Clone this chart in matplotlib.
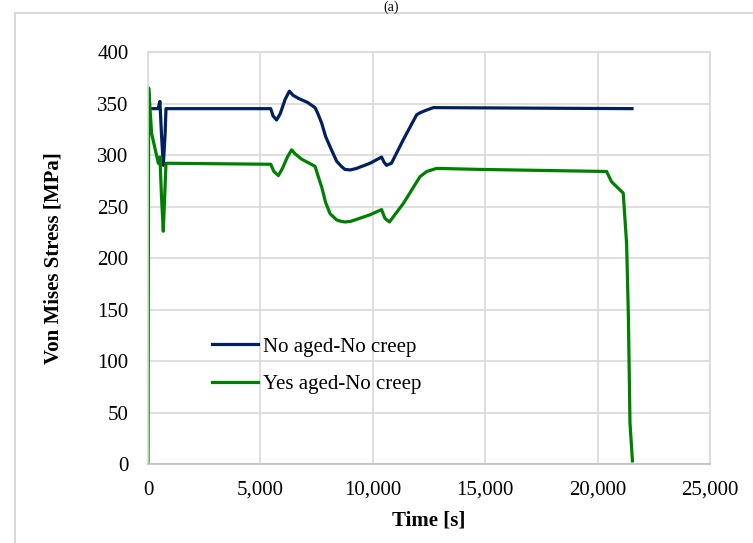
import matplotlib
matplotlib.use("Agg")
import matplotlib.pyplot as plt
from matplotlib.ticker import FuncFormatter, MultipleLocator
from matplotlib.patches import Rectangle

plt.rcParams['font.family'] = ['Liberation Serif', 'DejaVu Serif']

# No aged - No creep
t_blue = [0, 450, 530, 600, 680, 760, 800, 5460, 5560, 5720, 5880, 6100, 6290, 6450, 6690,
          7100, 7430, 7560, 7725, 7900, 8100, 8390, 8600, 8760, 9000, 9280, 9880, 10390,
          10500, 10610, 10830, 11360, 11950, 12100, 12320, 12690, 21530]
s_blue = [345, 345, 352, 320, 290, 320, 345, 345, 338, 334, 340, 354, 362, 358, 355,
          351, 346, 340, 331, 318, 308, 294, 289, 286, 285.5, 287, 292, 298,
          293, 290, 292, 315, 339, 341, 343, 346, 345]

# Yes aged - No creep
t_green = [0, 30, 160, 460, 530, 600, 680, 760, 800, 5460, 5600, 5800, 5980, 6200, 6390,
           6550, 6830, 7430, 7560, 7725, 7900, 8100, 8390, 8600, 8760, 9000, 9280, 9880,
           10390, 10540, 10740, 11360, 12100, 12400, 12840, 14770, 20400, 20620, 21140,
           21290, 21370, 21440, 21550]
s_green = [0, 365, 321, 292, 298, 260, 226, 270, 292, 291, 284, 280, 287, 298, 305,
           301, 296, 289, 280, 269, 254, 243, 237, 235.5, 235, 235.5, 237.5, 242,
           247, 238.5, 235, 253, 279, 284, 287, 286, 284, 274, 263,
           214, 143, 40, 3]

fig = plt.figure(figsize=(7.53, 5.43), dpi=100)
ax = fig.add_axes([148/753, 1-464/543, (710-148)/753, (464-52)/543])

# outer chart frame
fig.patches.append(Rectangle((15/753, -0.2), 1.2, 1.2 - 13/543, transform=fig.transFigure,
                             fill=False, edgecolor='#d9d9d9', linewidth=1.5))
fig.text(0.52, 1-1/543, '(a)', ha='center', va='top', fontsize=10)

ax.plot(t_blue, s_blue, color='#002060', lw=2.3, label='No aged-No creep')
ax.plot(t_green, s_green, color='#008000', lw=2.3, label='Yes aged-No creep')

ax.set_xlim(0, 25000)
ax.set_ylim(0, 400)
ax.xaxis.set_major_locator(MultipleLocator(5000))
ax.yaxis.set_major_locator(MultipleLocator(50))
ax.xaxis.set_major_formatter(FuncFormatter(lambda v, p: '{:,.0f}'.format(v)))
ax.grid(True, color='#d9d9d9', lw=1.2)
ax.set_axisbelow(True)
for sp in ax.spines.values():
    sp.set_color('#d9d9d9')
    sp.set_linewidth(1.2)
ax.spines['bottom'].set_color('#bfbfbf')
ax.tick_params(length=0, labelsize=15, pad=14)
ax.tick_params(axis='x', pad=12)

ax.set_xlabel('Time [s]', fontsize=15, fontweight='bold', labelpad=8)
ax.set_ylabel('Von Mises Stress [MPa]', fontsize=15, fontweight='bold', labelpad=24)

ax.legend(loc='upper left', bbox_to_anchor=(212/753, 1-337/543), bbox_transform=fig.transFigure,
          frameon=False, fontsize=15, handlelength=2.2, handletextpad=0.25,
          labelspacing=0.85, borderpad=0, borderaxespad=0)

fig.savefig('out.png', dpi=100)
